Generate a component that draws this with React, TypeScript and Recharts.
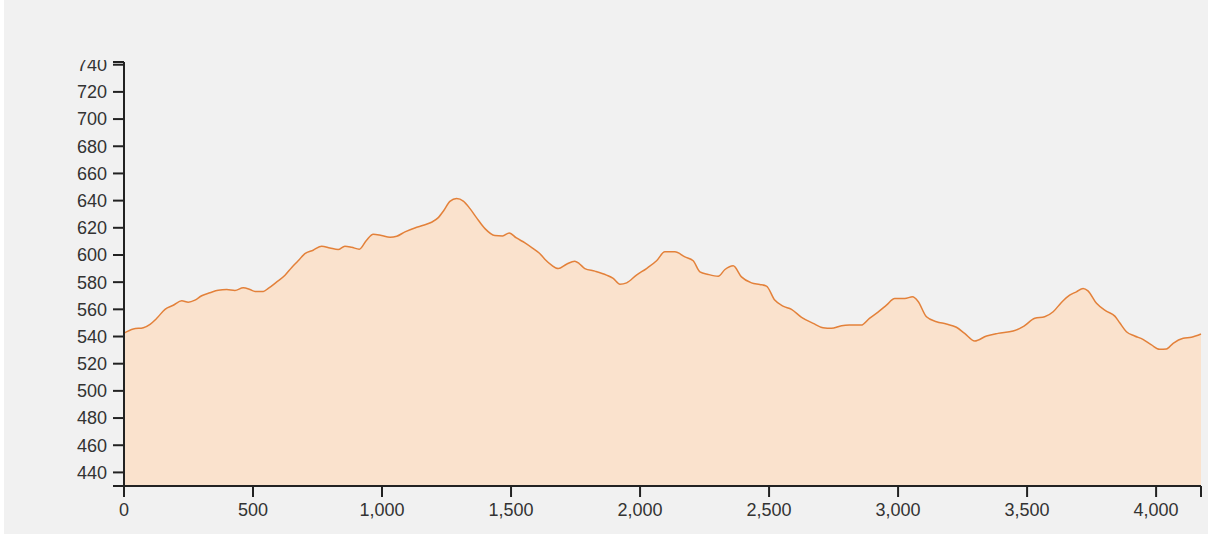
import { AreaChart, Area, XAxis, YAxis } from 'recharts';

// distance along the route (m) and elevation (m)
const distances = [
  0, 36, 75, 101, 127, 159, 191, 224, 249, 275,
  301, 333, 365, 398, 430, 462, 488, 508, 540, 559,
  592, 624, 650, 675, 701, 733, 766, 798, 830, 856,
  882, 912, 940, 966, 998, 1031, 1057, 1089, 1127, 1160,
  1192, 1218, 1240, 1263, 1289, 1315, 1341, 1366, 1399, 1437,
  1467, 1493, 1521, 1554, 1586, 1609, 1631, 1657, 1683, 1715,
  1747, 1764, 1786, 1825, 1870, 1896, 1922, 1948, 1986, 2025,
  2064, 2096, 2135, 2174, 2206, 2232, 2264, 2303, 2329, 2361,
  2393, 2432, 2464, 2490, 2522, 2554, 2587, 2626, 2671, 2709,
  2742, 2781, 2811, 2857, 2889, 2921, 2955, 2987, 3026, 3056,
  3077, 3110, 3149, 3187, 3226, 3258, 3297, 3343, 3387, 3446,
  3488, 3530, 3568, 3601, 3633, 3665, 3691, 3717, 3736, 3769,
  3807, 3840, 3859, 3885, 3917, 3949, 3982, 4014, 4040, 4066,
  4105, 4137, 4174,
];

const elevations = [
  542.5, 545.5, 546.5, 549, 553.4, 560, 563, 566.3, 565.3, 566.8,
  570, 572.2, 574.1, 574.6, 573.9, 575.8, 574.6, 573.2, 573.2, 575.4,
  580.2, 585.1, 590.8, 595.7, 601, 603.5, 606.5, 605.2, 604, 606.5,
  605.7, 604.2, 610.9, 615.3, 614.3, 613, 613.8, 617, 619.9, 621.9,
  624.1, 627.5, 632.9, 639.5, 641.5, 639.7, 634.1, 627.5, 619.4, 614.3,
  614, 616.2, 612.5, 608.9, 604.7, 601.5, 596.9, 592.5, 590, 593.2,
  595.4, 593.7, 590, 588.1, 585.2, 582.7, 578.5, 579.5, 585.2, 590,
  595.7, 602.3, 602.3, 598.6, 595.7, 587.6, 585.7, 584.4, 589.3, 592,
  583.9, 579.5, 578.3, 577.1, 566.8, 562.4, 560, 554.1, 549.7, 546.5,
  546, 548, 548.4, 548.4, 553.4, 557.8, 563.1, 568, 568, 569.2,
  566, 554.5, 550.9, 549.2, 546.8, 542.3, 536.7, 540.4, 542.3, 544,
  547.7, 553.4, 554.5, 558.2, 565.1, 570.5, 572.9, 575.4, 573.6, 564.4,
  558.7, 555, 550.1, 543.5, 540.4, 537.9, 533.8, 530.6, 530.8, 535,
  538.7, 539.4, 541.8,
];

const xTicks = [0, 500, 1000, 1500, 2000, 2500, 3000, 3500, 4000, 4174];
const yTicks = [430, 440, 460, 480, 500, 520, 540, 560, 580, 600, 620, 640, 660, 680, 700, 720, 740, 742];

const data = distances.map((d, i) => ({ d, elev: elevations[i] }));

const tickStyle = { fill: '#333', fontSize: 18, fontFamily: '"Liberation Sans", Arial, sans-serif' };
const lineStyle = { stroke: '#222', strokeWidth: 2 };

export default function App() {
  return (
    <div
      style={{
        position: 'absolute',
        left: 4,
        top: 0,
        width: 1204,
        height: 534,
        background: '#f1f1f1',
      }}
    >
      <div style={{ position: 'absolute', left: 0, top: 60 }}>
        <AreaChart
          width={1204}
          height={474}
          data={data}
          margin={{ top: 2, right: 7, bottom: 18, left: 60 }}
        >
          <XAxis
            type="number"
            dataKey="d"
            domain={[0, 4174]}
            ticks={xTicks}
            interval={0}
            height={30}
            tickSize={11}
            tickMargin={6}
            axisLine={lineStyle}
            tickLine={lineStyle}
            tick={tickStyle}
            tickFormatter={(v: number) => (v === 4174 ? '' : v.toLocaleString('en-US'))}
          />
          <YAxis
            type="number"
            domain={[430, 742]}
            ticks={yTicks}
            interval={0}
            width={60}
            tickSize={11}
            tickMargin={6}
            axisLine={lineStyle}
            tickLine={lineStyle}
            tick={tickStyle}
            tickFormatter={(v: number) => (v === 430 || v === 742 ? '' : String(v))}
          />
          <Area
            type="monotone"
            dataKey="elev"
            stroke="#e3813a"
            strokeWidth={1.5}
            fill="#fae2cd"
            fillOpacity={1}
            isAnimationActive={false}
          />
        </AreaChart>
      </div>
    </div>
  );
}
